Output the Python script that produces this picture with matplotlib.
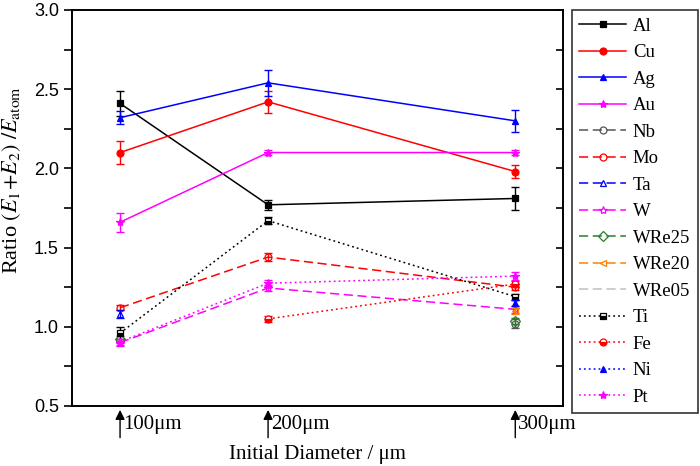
import numpy as np
import matplotlib.pyplot as plt
from matplotlib.ticker import MultipleLocator

plt.rcParams['mathtext.fontset'] = 'stix'

# Datos
diametros = ["100μm", "200μm", "300μm"]
x_pos = [100, 200, 367]   # posición de cada diámetro en el eje

nan = np.nan
materiales = ["Al", "Cu", "Ag", "Au", "Nb", "Mo", "Ta", "W", "WRe25", "WRe20",
              "WRe05", "Ti", "Fe", "Ni", "Pt"]

Al = [2.41, 1.77, 1.81]
Cu = [2.10, 2.42, 1.98]
Ag = [2.32, 2.54, 2.30]
Au = [1.66, 2.10, 2.10]
Nb = [nan, nan, 1.02]
Mo = [1.12, 1.44, 1.25]
Ta = [1.08, nan, nan]
W = [0.90, 1.245, 1.11]
WRe25 = [0.92, nan, 1.035]
WRe20 = [nan, nan, 1.10]
WRe05 = [nan, nan, nan]
Ti = [0.96, 1.67, 1.19]
Fe = [nan, 1.05, 1.27]
Ni = [nan, nan, 1.15]
Pt = [0.905, 1.275, 1.32]

Al_err = [0.08, 0.03, 0.07]
Cu_err = [0.07, 0.07, 0.04]
Ag_err = [0.04, 0.08, 0.07]
Au_err = [0.06, 0.015, 0.015]
Nb_err = [0, 0, 0.03]
Mo_err = [0.015, 0.025, 0.02]
Ta_err = [0.025, 0, 0]
W_err = [0.02, 0.02, 0.02]
WRe25_err = [0.02, 0, 0.02]
WRe20_err = [0, 0, 0.02]
WRe05_err = [0, 0, 0]
Ti_err = [0.04, 0.02, 0.02]
Fe_err = [0, 0.02, 0.02]
Ni_err = [0, 0, 0.02]
Pt_err = [0.02, 0.02, 0.025]

valores = [Al, Cu, Ag, Au, Nb, Mo, Ta, W, WRe25, WRe20, WRe05, Ti, Fe, Ni, Pt]
errores = [Al_err, Cu_err, Ag_err, Au_err, Nb_err, Mo_err, Ta_err, W_err,
           WRe25_err, WRe20_err, WRe05_err, Ti_err, Fe_err, Ni_err, Pt_err]

# Estilos (color, línea, marcador, relleno)
guion = (0, (6, 3))
punto = (0, (1.2, 2))
estilos = [
    ("black", "-", "s", "full"),
    ("#ff0000", "-", "o", "full"),
    ("#0000ff", "-", "^", "full"),
    ("#ff00ff", "-", "*", "full"),
    ("#555555", guion, "o", "none"),
    ("#ff0000", guion, "o", "none"),
    ("#0000ff", guion, "^", "none"),
    ("#ff00ff", guion, "*", "none"),
    ("#2e7d2e", guion, "D", "none"),
    ("#ff8000", guion, "<", "none"),
    ("#c0c0c0", guion, "", "none"),
    ("black", punto, "s", "bottom"),
    ("#ff0000", punto, "o", "bottom"),
    ("#0000ff", punto, "^", "full"),
    ("#ff00ff", punto, "*", "full"),
]

# Gráfica
fig = plt.figure(figsize=(7, 4.66), dpi=100)
ax = fig.add_axes([0.103, 0.1288, 0.7014, 0.8498])

lineas = []
for nombre, y, e, (c, ls, m, fs) in zip(materiales, valores, errores, estilos):
    ax.errorbar(x_pos, y, yerr=e, fmt="none", ecolor=c, elinewidth=1,
                capsize=3, capthick=1)
    ln, = ax.plot(x_pos, y, color=c, linestyle=ls, linewidth=1.1, marker=m,
                  markersize=5 if m != "*" else 6, fillstyle=fs,
                  markerfacecolor=c if fs != "none" else "white",
                  markerfacecoloralt="white", markeredgecolor=c,
                  markeredgewidth=0.9, label=nombre)
    lineas.append(ln)

ax.set_xlim(67.6, 399.3)
ax.set_ylim(0.5, 3.0)
ax.set_xticks([])
ax.yaxis.set_major_locator(MultipleLocator(0.5))
ax.yaxis.set_minor_locator(MultipleLocator(0.25))
ax.tick_params(axis="y", which="major", direction="out", length=6, width=1.2,
               labelsize=13)
ax.tick_params(axis="y", which="minor", direction="out", length=6, width=1.2)
for lab in ax.get_yticklabels():
    lab.set_family("Liberation Sans")
for s in ax.spines.values():
    s.set_linewidth(1.4)

# Marcas interiores del eje derecho
ax2 = ax.twinx()
ax2.set_ylim(0.5, 3.0)
ax2.yaxis.set_major_locator(MultipleLocator(0.25))
ax2.tick_params(axis="y", direction="in", length=5, width=1.2, labelright=False)
for s in ax2.spines.values():
    s.set_visible(False)

# Etiquetas del eje x con flechas
for xp, txt in zip(x_pos, diametros):
    ax.annotate("", xy=(xp, -0.01), xycoords=("data", "axes fraction"),
                xytext=(xp, -0.08), textcoords=("data", "axes fraction"),
                arrowprops=dict(arrowstyle="-|>", color="black", lw=1,
                                mutation_scale=14, shrinkA=0, shrinkB=0))
    ax.annotate(txt, xy=(xp, -0.048), xycoords=("data", "axes fraction"),
                xytext=(2, 0), textcoords="offset points", ha="left",
                va="center", fontsize=15, family="Liberation Serif")

ax.set_xlabel("Initial Diameter / μm", family="Liberation Serif", fontsize=15,
              labelpad=28)
ax.set_ylabel(r"Ratio $(E_1\!+\!E_2)\ /E_{\rm atom}$", family="Liberation Serif",
              fontsize=16)
ax.yaxis.set_label_coords(-0.100, 0.57)

leg = fig.legend(handles=lineas, loc="upper left",
                 bbox_to_anchor=(0.817, 0.9785), frameon=True, fancybox=False,
                 edgecolor="black", prop={"family": "Liberation Serif", "size": 13.5},
                 handlelength=2.5, handletextpad=0.35, labelspacing=0.5,
                 borderpad=0.4, borderaxespad=0)
leg.get_frame().set_linewidth(1.2)

plt.savefig("out.png", dpi=100)
